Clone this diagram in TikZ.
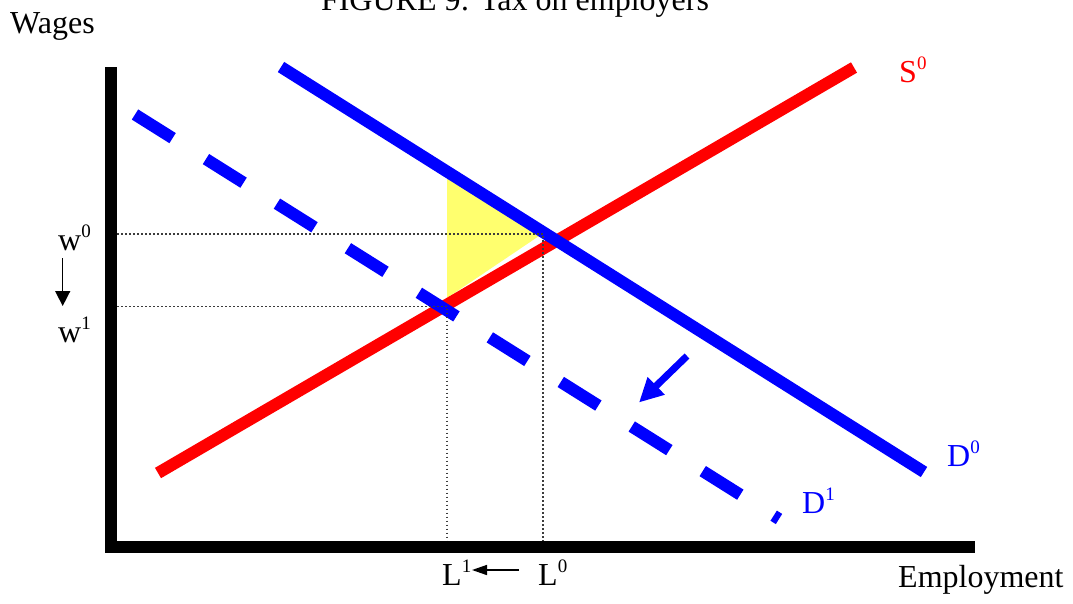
\documentclass[tikz,border=0pt]{standalone}
\usepackage{fontspec}
\setmainfont{Liberation Serif}
\usetikzlibrary{arrows.meta}
\definecolor{tblue}{RGB}{0,0,255}
\definecolor{tred}{RGB}{255,0,0}
\definecolor{tyellow}{RGB}{255,255,110}
\definecolor{dotgray}{RGB}{60,60,60}
\newcommand\supx[1]{\raisebox{13pt}{\fontsize{19}{19}\selectfont #1}}
\begin{document}
\begin{tikzpicture}[x=1pt,y=-1pt,
  lbl/.style={inner sep=0pt,anchor=base west,font=\fontsize{32}{36}\selectfont},
  axisline/.style={line width=12pt,line join=miter,black},
  curve/.style={line width=12pt,line cap=butt},
  guide/.style={line width=1.6pt,dotgray,dash pattern=on 1.8pt off 2.2pt},
  smallarrow/.style={line width=1.5pt,-{Triangle[length=15pt,width=15pt]}}]
\useasboundingbox (0,0) rectangle (1073,603);
% coordinates
\coordinate (axtop) at (111,67);
\coordinate (origin) at (111,547);
\coordinate (axright) at (975,547);
\coordinate (s0a) at (158,473);
\coordinate (s0b) at (854,67.5);
\coordinate (d0a) at (281,67);
\coordinate (d0b) at (924,472);
\coordinate (d1a) at (135,114.5);
\coordinate (d1b) at (779,519);
\coordinate (w0) at (117,234);
\coordinate (e0) at (543,234);
\coordinate (w1) at (117,306.5);
\coordinate (e1) at (447,306.5);
\coordinate (l1) at (447,541);
\coordinate (l0) at (543,541);
\coordinate (ya) at (447,165);
\coordinate (yb) at (447,298);
\coordinate (yc) at (542,234);
\coordinate (sha) at (687,356);
\coordinate (shb) at (639,402.5);
\coordinate (wa) at (62.7,258);
\coordinate (wb) at (62.7,306);
\coordinate (la) at (519,570);
\coordinate (lb) at (472,570);
% yellow area
\fill[tyellow] (ya) -- (yb) -- (yc) -- cycle;
% curves
\draw[curve,tred] (s0a) -- (s0b);
\draw[curve,tblue] (d0a) -- (d0b);
\draw[curve,tblue,dash pattern=on 44.4pt off 39.4pt] (d1a) -- (d1b);
% guides
\draw[guide] (w0) -- (e0) -- (l0);
\draw[guide] (w1) -- (e1) -- (l1);
% axes
\draw[axisline] (axtop) -- (origin) -- (axright);
% shift arrow
\draw[tblue,line width=7pt,-{Triangle[length=24pt,width=23pt]}] (sha) -- (shb);
% small arrows
\draw[smallarrow] (wa) -- (wb);
\draw[line width=1.5pt,-{Triangle[length=15pt,width=10pt]}] (la) -- (lb);
% labels
\node[lbl,anchor=base] (title) at (515,10) {FIGURE 9: Tax on employers};
\node[lbl] (wages) at (10,33) {Wages};
\node[lbl] (wlab0) at (58,250) {w\supx{0}};
\node[lbl] (wlab1) at (58,342) {w\supx{1}};
\node[lbl] (llab1) at (442,585) {L\supx{1}};
\node[lbl] (llab0) at (538,585) {L\supx{0}};
\node[lbl] (employ) at (898,587) {Employment};
\node[lbl,tred] (slab) at (899,82) {S\supx{0}};
\node[lbl,tblue] (dlab0) at (947,466) {D\supx{0}};
\node[lbl,tblue] (dlab1) at (802,513) {D\supx{1}};
\end{tikzpicture}
\end{document}
